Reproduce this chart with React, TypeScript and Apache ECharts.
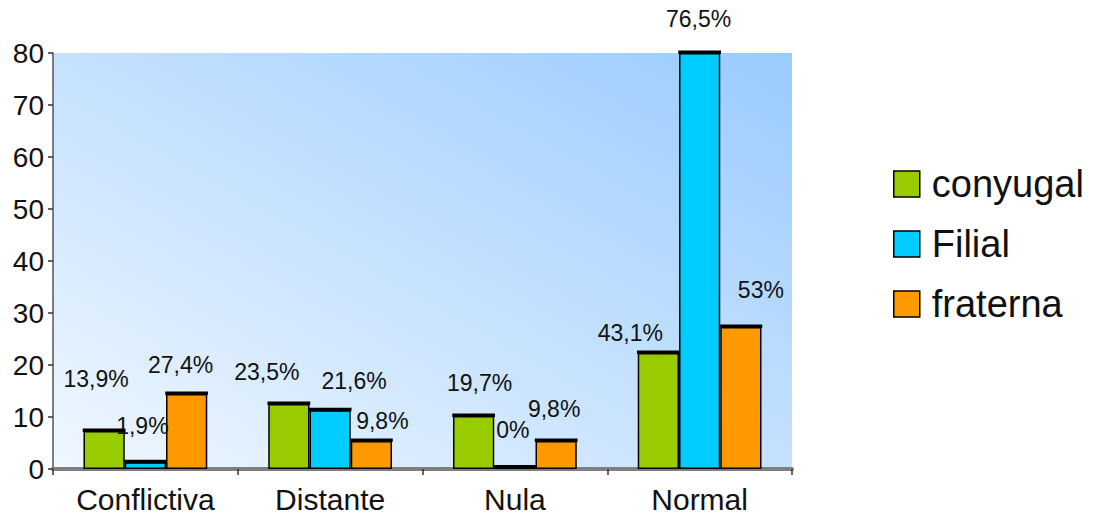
import React, { useEffect, useRef } from "react";
import * as echarts from "echarts";

const categories = ["Conflictiva", "Distante", "Nula", "Normal"];
const seriesNames = ["conyugal", "Filial", "fraterna"];
const conyugalValues = [7.3, 12.5, 10.2, 22.3];
const filialValues = [1.3, 11.3, 0.3, 80];
const fraternaValues = [14.4, 5.4, 5.4, 27.3];
const conyugalLabels = ["13,9%", "23,5%", "19,7%", "43,1%"];
const filialLabels = ["1,9%", "21,6%", "0%", "76,5%"];
const fraternaLabels = ["27,4%", "9,8%", "9,8%", "53%"];
const yTicks = { min: 0, max: 80, interval: 10 };

const colors = ["#99cc00", "#00ccff", "#ff9900"];
const labelOffsets = [
  [[-8, -41], [-22, -21], [6, -21], [-28, -9]],
  [[-3, -25], [24, -18], [-2, -26], [-1, -23]],
  [[-6, -18], [11, -8], [-2, -20], [20, -26]],
];

const FONT = "'Liberation Sans', Arial, sans-serif";

export default function App() {
  const ref = useRef<HTMLDivElement>(null);
  useEffect(() => {
    if (!ref.current) return;
    const chart = echarts.init(ref.current, undefined, { renderer: "svg" });
    const valuesList = [conyugalValues, filialValues, fraternaValues];
    const labelsList = [conyugalLabels, filialLabels, fraternaLabels];

    const barSeries = valuesList.map((vals, s) => ({
      name: seriesNames[s],
      type: "bar",
      barGap: "0%",
      barCategoryGap: "33%",
      itemStyle: { color: colors[s], borderColor: "#000", borderWidth: 1.5 },
      data: vals.map((v, i) => ({
        value: v,
        label: {
          show: true,
          position: "top",
          distance: 0,
          offset: labelOffsets[s][i],
          formatter: () => labelsList[s][i],
          fontFamily: FONT,
          fontSize: 23,
          lineHeight: 23,
          color: "#111",
        },
      })),
      z: 2,
    }));

    const topData: number[][] = [];
    valuesList.forEach((vals, s) => vals.forEach((v, i) => topData.push([i, v, s])));

    const topSeries = {
      type: "custom",
      name: "tops",
      silent: true,
      z: 3,
      encode: { x: 0, y: 1 },
      data: topData,
      renderItem: (params: any, api: any) => {
        const i = api.value(0);
        const v = api.value(1);
        const s = api.value(2);
        const pt = api.coord([i, v]);
        const catW = api.size([1, 0])[0];
        const bw = (catW * (1 - 0.33)) / 3;
        const x0 = pt[0] - 1.5 * bw + s * bw;
        return {
          type: "rect",
          shape: { x: x0 - 0.75, y: pt[1] - 2.5, width: bw + 1.5, height: 3.5 },
          style: { fill: "#000" },
        };
      },
    };

    chart.setOption({
      animation: false,
      backgroundColor: "#ffffff",
      textStyle: { fontFamily: FONT },
      grid: {
        left: 53,
        right: 313,
        top: 53,
        bottom: 48,
        show: true,
        borderWidth: 0,
        backgroundColor: {
          type: "linear",
          x: 0,
          y: 1,
          x2: 1,
          y2: 0,
          colorStops: [
            { offset: 0, color: "#f0f7ff" },
            { offset: 1, color: "#99cbfd" },
          ],
        },
      },
      legend: {
        data: seriesNames,
        orient: "vertical",
        left: 888,
        top: 160,
        itemWidth: 26,
        itemHeight: 26,
        itemGap: 22,
        icon: "rect",
        itemStyle: { borderColor: "#000", borderWidth: 1.5 },
        textStyle: {
          fontFamily: FONT,
          fontSize: 38,
          lineHeight: 38,
          color: "#111",
          padding: [0, 0, 0, 7],
        },
      },
      xAxis: {
        type: "category",
        data: categories,
        axisLine: { lineStyle: { color: "#7f7f7f", width: 4 } },
        axisTick: { show: true, length: 6, lineStyle: { color: "#333", width: 1.5 } },
        axisLabel: { fontFamily: FONT, fontSize: 30, color: "#111", margin: 15 },
      },
      yAxis: {
        type: "value",
        min: yTicks.min,
        max: yTicks.max,
        interval: yTicks.interval,
        splitLine: { show: false },
        axisLine: { show: true, lineStyle: { color: "#555", width: 1.5 } },
        axisTick: { show: true, length: 5, lineStyle: { color: "#333", width: 1.5 } },
        axisLabel: { fontFamily: FONT, fontSize: 28, color: "#111", margin: 9 },
      },
      series: [...barSeries, topSeries],
    });
    return () => chart.dispose();
  }, []);
  return (
    <div
      ref={ref}
      style={{ position: "fixed", left: 0, top: 0, width: 1105, height: 517 }}
    />
  );
}
